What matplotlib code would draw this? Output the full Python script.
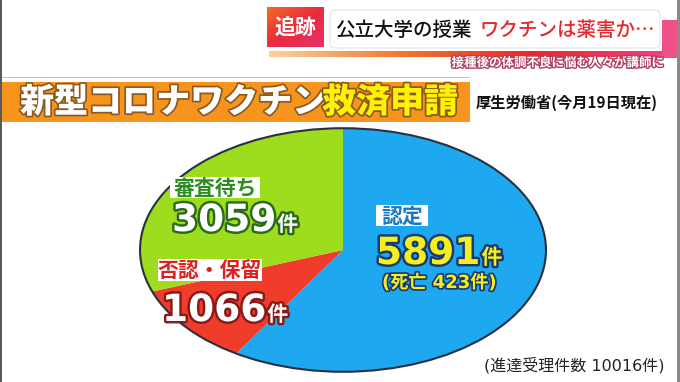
import numpy as np
import matplotlib.pyplot as plt
from matplotlib.colors import LinearSegmentedColormap
from matplotlib.patches import Rectangle, FancyBboxPatch, Circle
import matplotlib.patheffects as pe

plt.rcParams['font.family'] = ['Noto Sans CJK JP', 'DejaVu Sans']

# data
categories = ['認定', '否認・保留', '審査待ち']
counts = [5891, 1066, 3059]
deaths = 423
total = sum(counts)
colors = ['#1ea8f0', '#f03c2a', '#9edc1e']

W, H = 680, 382
fig = plt.figure(figsize=(W / 100, H / 100), dpi=100)
fig.patch.set_facecolor('white')

# background axes in pixel coords
bg = fig.add_axes([0, 0, 1, 1])
bg.set_xlim(0, W)
bg.set_ylim(H, 0)
bg.axis('off')

# frame edges of the screen grab
bg.add_patch(Rectangle((0, 0), 2, H, fc='#5a5a5a', ec='none', zorder=5))
bg.add_patch(Rectangle((677, 0), 3, H, fc='#8a8a8a', ec='none', zorder=5))

# header: badge, title bar, gradient strip
grad = np.linspace(0, 1, 256)[None, :]
gx, gy = np.meshgrid(np.linspace(0, 1, 64), np.linspace(0, 1, 64))
cmap_badge = LinearSegmentedColormap.from_list('b', ['#f26a22', '#ea2a40', '#e8306a'])
bg.imshow((gx + gy) / 2, extent=(267, 324, 47, 7), cmap=cmap_badge, aspect='auto', zorder=2)
bg.text(295.5, 27, '追跡', color='white', fontsize=15, fontweight='bold', ha='center', va='center', zorder=3)
bg.add_patch(Rectangle((662, 20), 16, 38, fc='#f0508a', ec='none', zorder=1))
bg.add_patch(FancyBboxPatch((330, 10), 330, 38, boxstyle='round,pad=0,rounding_size=5',
                            fc='white', ec='#e4e4e4', lw=0.8, zorder=1.5))
bg.text(335, 30, '公立大学の授業', color='#111111', fontsize=14, fontweight='medium', ha='left', va='center', zorder=3)
bg.text(480, 30, 'ワクチンは薬害か…', color='#e8282d', fontsize=14, fontweight='medium', ha='left', va='center', zorder=3)
cmap_strip = LinearSegmentedColormap.from_list('s', ['#fbd2a0', '#f07830', '#e82828', '#ee4080'])
bg.imshow(grad, extent=(269, 662, 57, 51), cmap=cmap_strip, aspect='auto', zorder=1)
bg.text(664, 63, '接種後の体調不良に悩む人々が講師に', color='white', fontsize=9, fontweight='bold',
        ha='right', va='center', zorder=3,
        path_effects=[pe.withStroke(linewidth=2, foreground='#b04060')])

# orange banner
bg.add_patch(Rectangle((0, 76.5), 470, 1.5, fc='#f9b860', ec='none'))
bg.add_patch(Rectangle((0, 82), 470, 40, fc='#f7941e', ec='none'))
shadow = [pe.withStroke(linewidth=2.5, foreground='#8a5a20')]
bg.text(20, 102, '新型コロナワクチン', color='white', fontsize=24.5, fontweight='heavy',
        ha='left', va='center', path_effects=shadow)
bg.text(322, 102, '救済申請', color='#fff200', fontsize=24.5, fontweight='heavy',
        ha='left', va='center', path_effects=shadow)
bg.text(476, 103, '厚生労働省(今月19日現在)', color='#111111', fontsize=11, fontweight='bold',
        ha='left', va='center')

# pie drawn as squashed ellipse
ax = fig.add_axes([138 / W, (H - 373) / H, 410 / W, 246 / H])
ax.pie(counts, colors=colors, startangle=90, counterclock=False,
       wedgeprops=dict(linewidth=0))
ax.add_patch(Circle((0, 0), 1, fill=False, ec='#2a3040', lw=1.5))
ax.set_aspect('auto')
ax.set_xlim(-1.01, 1.01)
ax.set_ylim(-1.01, 1.01)
ax.axis('off')

# labels on top
lab = fig.add_axes([0, 0, 1, 1])
lab.set_xlim(0, W)
lab.set_ylim(H, 0)
lab.axis('off')


def tag(x, y, w, h, text, color):
    lab.add_patch(Rectangle((x, y), w, h, fc='white', ec='none'))
    lab.text(x + w / 2, y + h / 2 + 0.5, text, color=color, fontsize=15, fontweight='bold',
             ha='center', va='center')


def number(x, y, value, fc, oc, size=27, unit_size=15):
    fx = [pe.withStroke(linewidth=3.5, foreground=oc)]
    t = lab.text(x, y, f'{value}', color=fc, fontsize=size, fontweight='bold',
                 family=['DejaVu Sans'], ha='left', va='baseline', path_effects=fx)
    fig.canvas.draw()
    bb = t.get_window_extent()
    x2 = bb.x1 * W / fig.bbox.width
    lab.text(x2 + 1, y, '件', color=fc, fontsize=unit_size, fontweight='bold',
             ha='left', va='baseline', path_effects=fx)


tag(376, 205, 52, 21, categories[0], '#1a78c8')
number(376, 264, counts[0], '#f5ef1e', '#1a3a70')
lab.text(382, 283, f'(死亡 {deaths}件)', color='#f5ef1e', fontsize=13, fontweight='bold',
         family=['DejaVu Sans', 'Noto Sans CJK JP'],
         ha='left', va='center', path_effects=[pe.withStroke(linewidth=2.5, foreground='#1a3a70')])

tag(170, 177, 90, 21, categories[2], '#2e8c20')
number(172, 231, counts[2], 'white', '#2a6a1a')

tag(158, 259, 104, 22, categories[1], '#e02020')
number(162, 321, counts[1], 'white', '#8a1a1a')

lab.text(665, 365, f'(進達受理件数 {total}件)', color='#222222', fontsize=11.5,
         family=['DejaVu Sans', 'Noto Sans CJK JP'], ha='right', va='center')

fig.savefig('out.png', dpi=100, facecolor='white')
